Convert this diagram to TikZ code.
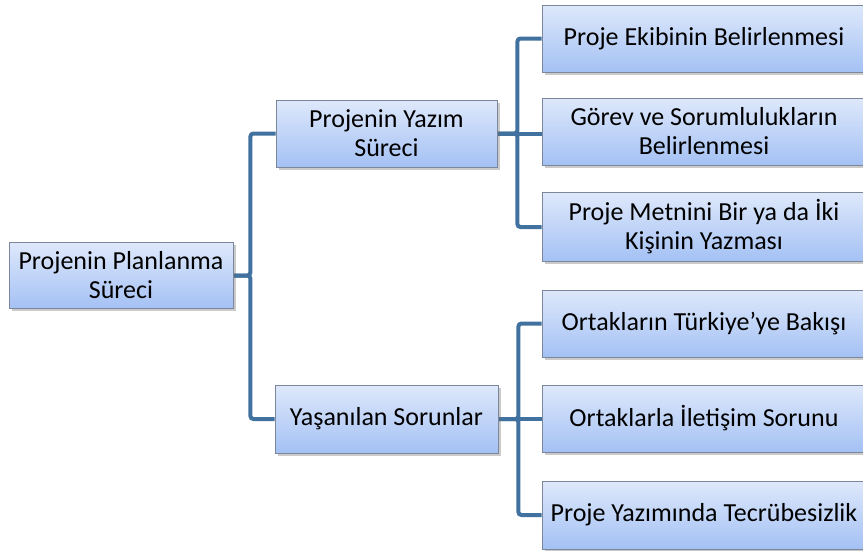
\documentclass[tikz,border=0pt]{standalone}
\usepackage{fontspec}
\setmainfont{Carlito}
\usetikzlibrary{shadows,backgrounds}
\definecolor{boxtop}{RGB}{222,232,251}
\definecolor{boxbot}{RGB}{164,193,244}
\definecolor{boxline}{RGB}{125,135,155}
\definecolor{conn}{RGB}{65,113,158}
\tikzset{
  box/.style={rectangle, draw=boxline, line width=0.8pt, top color=boxtop, bottom color=boxbot,
    align=center, inner sep=0pt, font=\fontsize{26}{29}\selectfont,
    drop shadow={shadow xshift=2.5pt, shadow yshift=-2.5pt, opacity=0.35, fill=black!60}},
  conn/.style={draw=conn, line width=4pt, rounded corners=3pt}
}
\begin{document}
\begin{tikzpicture}[x=1pt,y=-1pt]
\useasboundingbox (0,0) rectangle (863,550);
\node[box, minimum width=224pt, minimum height=66pt] (root) at (121,275.5) {Projenin Planlanma\\Süreci};
\node[box, minimum width=221pt, minimum height=67pt] (yazim) at (386.5,133.5) {Projenin Yazım\\Süreci};
\node[box, minimum width=223pt, minimum height=68pt] (sorun) at (386.5,419) {Yaşanılan Sorunlar};
\node[box, minimum width=324pt, minimum height=67pt] (r1) at (704,38.5) {Proje Ekibinin Belirlenmesi};
\node[box, minimum width=324pt, minimum height=67pt] (r2) at (704,131.5) {Görev ve Sorumlulukların\\Belirlenmesi};
\node[box, minimum width=324pt, minimum height=69pt] (r3) at (704,227) {Proje Metnini Bir ya da İki\\Kişinin Yazması};
\node[box, minimum width=324pt, minimum height=67pt] (r4) at (704,323.5) {Ortakların Türkiye’ye Bakışı};
\node[box, minimum width=324pt, minimum height=67pt] (r5) at (704,418.5) {Ortaklarla İletişim Sorunu};
\node[box, minimum width=324pt, minimum height=68pt] (r6) at (704,515) {\makebox[0pt]{Proje Yazımında Tecrübesizlik}};
\begin{scope}[on background layer]
\draw[conn] (root.east) -- ++(17,0) |- (yazim.west);
\draw[conn] (root.east) -- ++(17,0) |- (sorun.west);
\draw[conn] (yazim.east) -- ++(20,0) |- (r1.west);
\draw[conn] (yazim.east) -- (r2.west |- yazim.east);
\draw[conn] (yazim.east) -- ++(20,0) |- (r3.west);
\draw[conn] (sorun.east) -- ++(20,0) |- (r4.west);
\draw[conn] (sorun.east) -- (r5.west |- sorun.east);
\draw[conn] (sorun.east) -- ++(20,0) |- (r6.west);
\end{scope}
\end{tikzpicture}
\end{document}
